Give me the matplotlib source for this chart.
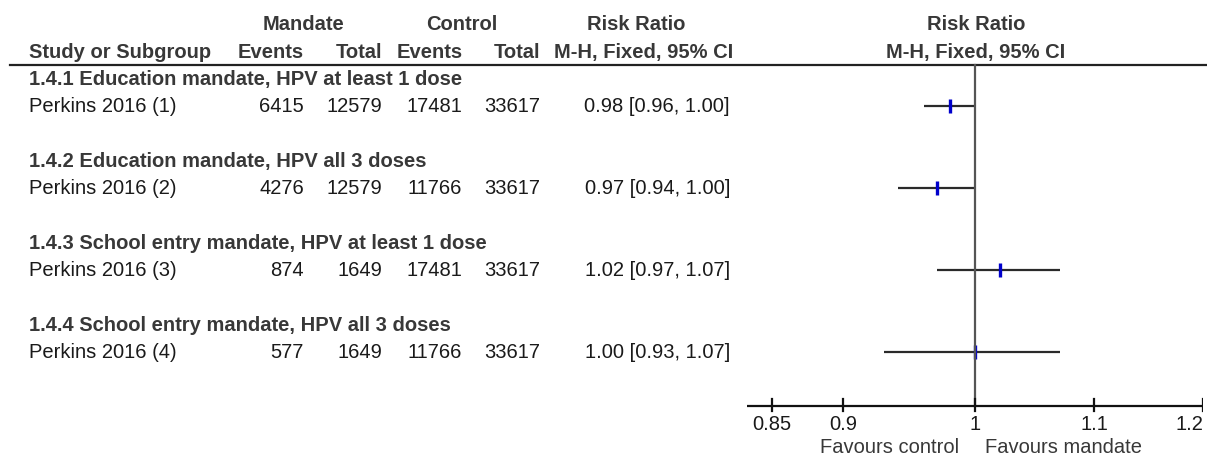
import numpy as np
import matplotlib.pyplot as plt
from matplotlib.transforms import blended_transform_factory

plt.rcParams['font.family'] = ['Liberation Sans', 'DejaVu Sans']

subgroups = ['1.4.1 Education mandate, HPV at least 1 dose',
             '1.4.2 Education mandate, HPV all 3 doses',
             '1.4.3 School entry mandate, HPV at least 1 dose',
             '1.4.4 School entry mandate, HPV all 3 doses']
studies = ['Perkins 2016 (1)', 'Perkins 2016 (2)', 'Perkins 2016 (3)', 'Perkins 2016 (4)']
mandate_events = [6415, 4276, 874, 577]
mandate_total = [12579, 12579, 1649, 1649]
control_events = [17481, 11766, 17481, 11766]
control_total = [33617, 33617, 33617, 33617]
rr = [0.98, 0.97, 1.02, 1.00]
ci_lo = [0.96, 0.94, 0.97, 0.93]
ci_hi = [1.00, 1.00, 1.07, 1.07]
ticks = [0.85, 0.9, 1, 1.1, 1.2]
tick_labels = ['0.85', '0.9', '1', '1.1', '1.2']

W, H = 1207, 456
fig = plt.figure(figsize=(W / 100, H / 100), dpi=100)

# row i sits at pixel 25 + 27.3*i from the top
y0, dy = 25, 27.3
ax = fig.add_axes([747 / W, 0, (1203 - 747) / W, 1])
ax.set_xscale('log')
ax.set_xlim(1 / 1.2, 1.2)
ax.set_ylim((H - y0) / dy, -y0 / dy)
ax.axis('off')

tr = blended_transform_factory(fig.transFigure, ax.transData)
def px(x):
    return x / W

fs = 14.5
hdr = dict(fontsize=fs, fontweight='bold', color='#383838', va='center', transform=tr)
txt = dict(fontsize=fs, color='#1a1a1a', va='center', transform=tr)

# headers
fig.text(px(303), 0, 'Mandate', ha='center', **hdr)
fig.text(px(462), 0, 'Control', ha='center', **hdr)
fig.text(px(636), 0, 'Risk Ratio', ha='center', **hdr)
fig.text(px(976), 0, 'Risk Ratio', ha='center', **hdr)
fig.text(px(29), 1, 'Study or Subgroup', ha='left', **hdr)
fig.text(px(304), 1, 'Events', ha='right', **hdr)
fig.text(px(382), 1, 'Total', ha='right', **hdr)
fig.text(px(463), 1, 'Events', ha='right', **hdr)
fig.text(px(540), 1, 'Total', ha='right', **hdr)
fig.text(px(644), 1, 'M-H, Fixed, 95% CI', ha='center', **hdr)
fig.text(px(976), 1, 'M-H, Fixed, 95% CI', ha='center', **hdr)

# header rule across the page
ax.plot([px(10), 1], [1.5, 1.5], color='#222222', lw=1.6, transform=tr, clip_on=False)

for k in range(len(studies)):
    yh = 2 + 3 * k
    ys = yh + 1
    fig.text(px(29), yh, subgroups[k], ha='left', **hdr)
    fig.text(px(29), ys, studies[k], ha='left', **txt)
    fig.text(px(304), ys, str(mandate_events[k]), ha='right', **txt)
    fig.text(px(382), ys, str(mandate_total[k]), ha='right', **txt)
    fig.text(px(462), ys, str(control_events[k]), ha='right', **txt)
    fig.text(px(540), ys, str(control_total[k]), ha='right', **txt)
    fig.text(px(730), ys, '%.2f [%.2f, %.2f]' % (rr[k], ci_lo[k], ci_hi[k]), ha='right', **txt)
    ax.plot([ci_lo[k], ci_hi[k]], [ys, ys], color='#2a2a2a', lw=1.6, solid_capstyle='butt')
    ax.plot([rr[k]], [ys], marker='|', color='#0000cc', ms=9.5, mew=2.4)

# line of no effect and the bottom axis
y_axis = 14
ax.plot([1, 1], [1.5, y_axis], color='#555555', lw=1.6)
ax.plot([1 / 1.2, 1.2], [y_axis, y_axis], color='#111111', lw=1.6)
for t, lab in zip(ticks, tick_labels):
    ax.plot([t, t], [y_axis - 0.26, y_axis + 0.18], color='#111111', lw=1.6)
    ha = 'right' if t == ticks[-1] else 'center'
    ax.text(t, y_axis + 0.64, lab, ha=ha, va='center', fontsize=fs, color='#1a1a1a')
ax.text(0.9875, y_axis + 1.47, 'Favours control', ha='right', va='center', fontsize=fs, color='#383838')
ax.text(1.008, y_axis + 1.47, 'Favours mandate', ha='left', va='center', fontsize=fs, color='#383838')

fig.savefig('out.png', dpi=100)
